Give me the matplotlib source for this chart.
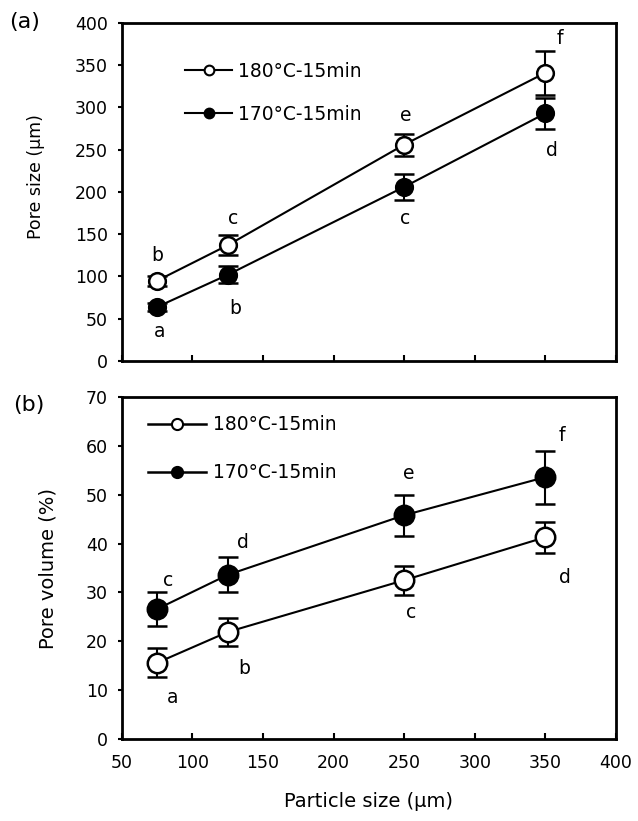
import matplotlib
matplotlib.use("Agg")
import matplotlib.pyplot as plt

plt.rcParams['font.family'] = ['DejaVu Sans']

# ---- data ----
particle_size = [75, 125, 250, 350]

pore_size_180 = [95, 137, 256, 341]
pore_size_180_err = [6, 12, 13, 26]
pore_size_170 = [64, 102, 206, 293]
pore_size_170_err = [5, 10, 15, 18]

pore_vol_180 = [15.6, 21.9, 32.5, 41.3]
pore_vol_180_err = [3.0, 2.8, 3.0, 3.2]
pore_vol_170 = [26.6, 33.6, 45.8, 53.6]
pore_vol_170_err = [3.4, 3.6, 4.2, 5.4]

labels_a_180 = ['b', 'c', 'e', 'f']
labels_a_170 = ['a', 'b', 'c', 'd']
labels_b_180 = ['a', 'b', 'c', 'd']
labels_b_170 = ['c', 'd', 'e', 'f']

series_names = ['180°C-15min', '170°C-15min']
x_ticks = [50, 100, 150, 200, 250, 300, 350, 400]
ya_ticks = [0, 50, 100, 150, 200, 250, 300, 350, 400]
yb_ticks = [0, 10, 20, 30, 40, 50, 60, 70]

# letter positions (data coords)
pos_a_180 = [(75, 125), (129, 169), (251, 291), (360, 382)]
pos_a_170 = [(77, 35), (130, 62), (251, 169), (355, 249)]
pos_b_180 = [(86, 8.4), (137, 14.5), (255, 25.8), (364, 33)]
pos_b_170 = [(83, 32.5), (136, 40.3), (253, 54.4), (362, 62.2)]

fig = plt.figure(figsize=(6.38, 8.21), dpi=100)
ax1 = fig.add_axes([0.191, 0.5603, 0.7743, 0.4117])
ax2 = fig.add_axes([0.191, 0.0999, 0.7743, 0.4165])

def style(ax, yticks, ylim):
    ax.set_xlim(50, 400)
    ax.set_ylim(*ylim)
    ax.set_xticks(x_ticks)
    ax.set_yticks(yticks)
    for s in ax.spines.values():
        s.set_linewidth(2)
    ax.tick_params(axis='x', direction='in', length=4, width=1.5, labelsize=12.5, pad=11)
    ax.tick_params(axis='y', direction='out', length=3, width=1.5, labelsize=12.5, pad=7)

def draw(ax, y180, e180, y170, e170, ms):
    h1 = ax.errorbar(particle_size, y180, yerr=e180, fmt='-o', color='black',
                     mfc='white', mec='black', ms=ms, mew=1.8, lw=1.5,
                     capsize=7, capthick=1.8, elinewidth=1.5, zorder=3)
    h2 = ax.errorbar(particle_size, y170, yerr=e170, fmt='-o', color='black',
                     mfc='black', mec='black', ms=ms, mew=1.8, lw=1.5,
                     capsize=7, capthick=1.8, elinewidth=1.5, zorder=3)
    return h1, h2

# panel (a)
style(ax1, ya_ticks, (0, 400))
ax1.set_xticklabels([])
draw(ax1, pore_size_180, pore_size_180_err, pore_size_170, pore_size_170_err, 12)
l1, = ax1.plot([], [], '-o', color='black', mfc='white', ms=7, mew=1.5, lw=1.5)
l2, = ax1.plot([], [], '-o', color='black', mfc='black', ms=7, mew=1.5, lw=1.5)
ax1.legend([l1, l2], series_names, loc='upper left', bbox_to_anchor=(0.127, 0.886),
           frameon=False, fontsize=13.5, handlelength=2.55, handletextpad=0.3,
           labelspacing=1.3, borderpad=0, borderaxespad=0)
for (x, y), t in zip(pos_a_180 + pos_a_170, labels_a_180 + labels_a_170):
    ax1.text(x, y, t, fontsize=13.5, ha='center', va='center')
ax1.set_ylabel('Pore size (μm)', fontsize=12.5)
ax1.yaxis.set_label_coords(-0.156, 0.545)
fig.text(0.039, 0.973, '(a)', fontsize=16, va='center', ha='center')

# panel (b)
style(ax2, yb_ticks, (0, 70))
draw(ax2, pore_vol_180, pore_vol_180_err, pore_vol_170, pore_vol_170_err, 14)
m1, = ax2.plot([], [], '-o', color='black', mfc='white', ms=8, mew=1.5, lw=1.8)
m2, = ax2.plot([], [], '-o', color='black', mfc='black', ms=8, mew=1.5, lw=1.8)
ax2.legend([m1, m2], series_names, loc='upper left', bbox_to_anchor=(0.053, 0.947),
           frameon=False, fontsize=13.5, handlelength=3.1, handletextpad=0.35,
           labelspacing=1.55, borderpad=0, borderaxespad=0)
for (x, y), t in zip(pos_b_180 + pos_b_170, labels_b_180 + labels_b_170):
    ax2.text(x, y, t, fontsize=13.5, ha='center', va='center')
ax2.set_ylabel('Pore volume (%)', fontsize=14)
ax2.yaxis.set_label_coords(-0.13, 0.5)
ax2.set_xlabel('Particle size (μm)', fontsize=14, labelpad=14)
fig.text(0.045, 0.507, '(b)', fontsize=16, va='center', ha='center')

fig.savefig('out.png', dpi=100)
